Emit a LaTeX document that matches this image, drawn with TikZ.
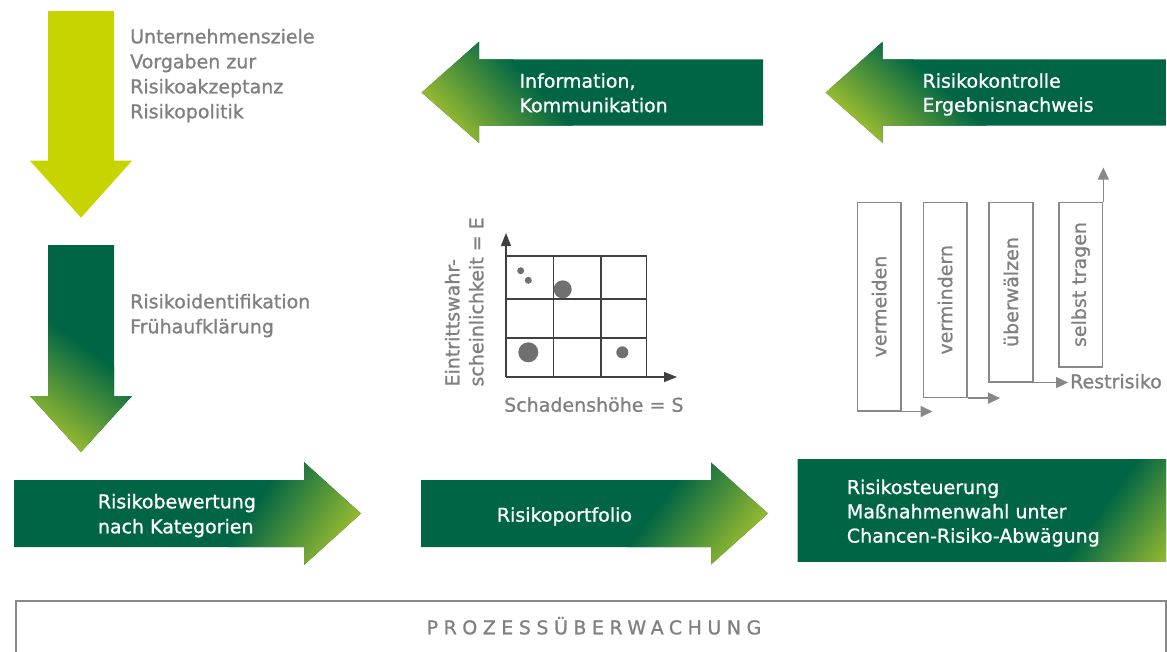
\documentclass[tikz,border=0pt]{standalone}
\usepackage{fontspec}
\setmainfont{DejaVu Sans}[FakeBold=1]
\newfontfamily\widefont{DejaVu Sans}[LetterSpace=29,FakeBold=1]
\usetikzlibrary{arrows.meta}
\definecolor{dg}{RGB}{0,101,68}
\definecolor{lg}{RGB}{150,186,48}
\definecolor{yc}{RGB}{200,212,0}
\definecolor{tg}{RGB}{128,128,128}
\definecolor{mg}{RGB}{64,64,64}
\definecolor{dotc}{RGB}{112,112,112}
\definecolor{bgc}{RGB}{136,136,136}
\newcommand\tl[1]{\begin{tabular}[t]{@{}l@{}}#1\end{tabular}}
% #1 path, #2 start point, #3 angle, #4 gradient length
\newcommand\gradshape[4]{%
  \begin{scope}
    \clip #1;
    \fill[dg] (0,0) rectangle (1167,651);
    \begin{scope}[transform canvas={shift={#2},rotate=#3}]
      \shade[left color=dg,right color=lg] (0,-300) rectangle (#4,300);
      \fill[lg] (#4,-300) rectangle (#4+400,300);
    \end{scope}
  \end{scope}}
\begin{document}
\begin{tikzpicture}[x=1pt,y=-1pt,
  lab/.style={anchor=base west, inner sep=0pt, text=tg, font=\fontsize{19}{25}\selectfont},
  wlab/.style={lab, text=white},
  barbox/.style={draw=bgc, line width=1.6pt, inner sep=0pt, minimum width=43.7pt},
  barlab/.style={rotate=90, inner sep=0pt, text=tg, font=\fontsize{19}{25}\selectfont},
  barr/.style={draw=bgc, line width=1.6pt, -{Triangle[length=12pt,width=11pt]}},
  axarr/.style={draw=mg, line width=1.4pt, -{Triangle[length=13pt,width=10pt]}},
  gridline/.style={draw=mg, line width=1.4pt},
  dot/.style={fill=dotc}
]
\useasboundingbox (0,0) rectangle (1167,651);

% ---- left column arrows
\fill[yc] (48,11) -- (114,11) -- (114,160.7) -- (132,160.7) -- (81,217.7) -- (30,160.7) -- (48,160.7) -- cycle;
\gradshape{(48,245) -- (114,245) -- (114,396) -- (132,396) -- (81,452) -- (30,396) -- (48,396) -- cycle}{(48,320)}{234.6}{89}

% ---- bottom row
\gradshape{(14,480) -- (304,480) -- (304,462) -- (361,513.5) -- (304,565) -- (304,547) -- (14,547) -- cycle}{(270,480)}{-32.7}{94}
\gradshape{(421,480) -- (711,480) -- (711,462.5) -- (768,513.5) -- (711,564.5) -- (711,547) -- (421,547) -- cycle}{(676.7,480)}{-36.9}{93}
\gradshape{(797.7,459.3) rectangle (1166,561.7)}{(1136.7,460)}{-35.8}{83}

% ---- top row (left pointing)
\gradshape{(763,59.3) -- (479,59.3) -- (479,41.7) -- (421.7,92.5) -- (479,143) -- (479,125.7) -- (763,125.7) -- cycle}{(513,59.3)}{222.1}{90}
\gradshape{(1166,59.3) -- (882.7,59.3) -- (882.7,41.7) -- (825.7,92.5) -- (882.7,143) -- (882.7,125.7) -- (1166,125.7) -- cycle}{(913,59.3)}{228}{83}

% ---- texts
\node[lab] (t1) at (130,43.3) {\tl{Unternehmensziele\\Vorgaben zur\\Risikoakzeptanz\\Risikopolitik}};
\node[lab] (t2) at (130,308.3) {\tl{Risikoidentifikation\\Frühaufklärung}};
\node[wlab, font=\fontsize{19}{24.5}\selectfont] (t3) at (519.3,87.7) {\tl{Information,\\Kommunikation}};
\node[wlab, font=\fontsize{19}{24}\selectfont] (t4) at (922.3,87.7) {\tl{Risikokontrolle\\Ergebnisnachweis}};
\node[wlab] (t5) at (97.7,508.3) {\tl{Risikobewertung\\nach Kategorien}};
\node[wlab] (t6) at (496.7,521.7) {Risikoportfolio};
\node[wlab, font=\fontsize{19}{24.3}\selectfont] (t7) at (846.7,494) {\tl{Risikosteuerung\\Maßnahmenwahl unter\\Chancen-Risiko-Abwägung}};

% ---- risk matrix
\coordinate (O) at (506,377);
\coordinate (yT) at (506,233);
\coordinate (xT) at (677,377);
\draw[gridline] (553.3,256) -- (553.3,377) (601,256) -- (601,377) (646.7,256) -- (646.7,377);
\draw[gridline] (506,256) -- (646.7,256) (506,299) -- (646.7,299) (506,338) -- (646.7,338);
\draw[axarr] (O) -- (yT);
\draw[axarr] (O) -- (xT);
\fill[dot] (520.7,270.7) circle (3.5);
\fill[dot] (528.3,280.3) circle (3.5);
\fill[dot] (562.7,289.3) circle (9);
\fill[dot] (528.3,352.3) circle (10);
\fill[dot] (622.3,352.3) circle (6);
\node[lab] (xl) at (504,411.7) {Schadenshöhe = S};
\node[lab, rotate=90, font=\fontsize{19}{24}\selectfont] (yl) at (459.3,386.7) {\tl{Eintrittswahr-\\scheinlichkeit = E}};

% ---- measures bars
\node[barbox, minimum height=208.4pt] (b1) at (879.15,306.5) {};
\node[barbox, minimum height=195pt] (b2) at (945.15,299.8) {};
\node[barbox, minimum height=179.4pt] (b3) at (1011,292) {};
\node[barbox, minimum height=164.4pt] (b4) at (1080.65,284.5) {};
\node[barlab] (l1) at (b1.center) {vermeiden};
\node[barlab] (l2) at (b2.center) {vermindern};
\node[barlab] (l3) at (b3.center) {überwälzen};
\node[barlab] (l4) at (b4.center) {selbst tragen};
\node[lab] (rr) at (1070,388.3) {Restrisiko};
\draw[barr] (b1.south east) -- ++(30.7,0);
\draw[barr] (b2.south east) -- ++(32.3,0);
\draw[barr, shorten >=2pt] (b3.south east) -- (b3.south east -| rr.west);
\draw[barr] (b4.north east) -- ++(0,-34);

% ---- process monitoring box
\draw[draw=bgc, line width=2pt] (15.7,660) |- (1165.7,601) -- (1165.7,660);
\node[anchor=base, inner sep=0pt, text=tg, font=\widefont\fontsize{19}{25}\selectfont] (pm) at (594,634.3) {PROZESSÜBERWACHUNG};
\end{tikzpicture}
\end{document}
